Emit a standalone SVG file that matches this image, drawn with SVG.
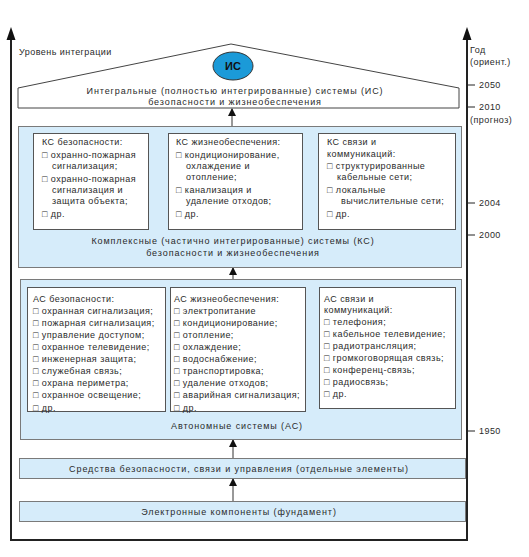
<svg xmlns="http://www.w3.org/2000/svg" width="529" height="557" viewBox="0 0 529 557">
<style>
text{font-family:"Liberation Sans",Arial,sans-serif;font-size:9px;fill:#2a2a2a;letter-spacing:0.45px}
.c{text-anchor:middle;letter-spacing:0.9px}
.blue{fill:#d6ecfa;stroke:#7a7a7a;stroke-width:1}
.white{fill:#fff;stroke:#555;stroke-width:1}
.axis{stroke:#222;stroke-width:2;fill:none}
.tick{stroke:#222;stroke-width:1}
.conn{stroke:#333;stroke-width:1;fill:none}
</style>
<defs>
<marker id="ah" viewBox="0 0 8 8" refX="7" refY="4" markerWidth="8" markerHeight="8" markerUnits="userSpaceOnUse" orient="auto">
<path d="M0,0 L8,4 L0,8 Z" fill="#111"/>
</marker>
</defs>
<rect width="529" height="557" fill="#fff"/>
<g id="frame">
<path class="axis" d="M11,38 V540 H467 V38"/>
<polygon points="11,27 6.5,40 15.5,40" fill="#111"/>
<polygon points="467,27 462.5,40 471.5,40" fill="#111"/>
<text x="19" y="55">Уровень интеграции</text>
<text x="470" y="53">Год</text>
<text x="470" y="65">(ориент.)</text>
<line class="tick" x1="467" y1="85" x2="475" y2="85"/>
<text x="479" y="88">2050</text>
<line class="tick" x1="467" y1="107" x2="475" y2="107"/>
<text x="479" y="110">2010</text>
<text x="470" y="123">(прогноз)</text>
<line class="tick" x1="467" y1="203" x2="475" y2="203"/>
<text x="479" y="206">2004</text>
<line class="tick" x1="467" y1="235" x2="475" y2="235"/>
<text x="479" y="238">2000</text>
<line class="tick" x1="467" y1="431" x2="475" y2="431"/>
<text x="479" y="434">1950</text>
</g>
<g id="connectors">
<line class="conn" x1="232" y1="126" x2="232" y2="109" marker-end="url(#ah)"/>
<line class="conn" x1="233" y1="279" x2="233" y2="268" marker-end="url(#ah)"/>
<line class="conn" x1="233" y1="458" x2="233" y2="440" marker-end="url(#ah)"/>
<line class="conn" x1="233" y1="501" x2="233" y2="479" marker-end="url(#ah)"/>
</g>
<g id="is">
<polygon points="18,108 18,88 231,44 459,88 459,108" fill="#fff" stroke="#444" stroke-width="1"/>
<ellipse cx="233" cy="66" rx="20" ry="14" fill="#1b9ad8" stroke="#333" stroke-width="1"/>
<text x="233" y="70" style="text-anchor:middle;letter-spacing:0;font-size:11px;font-weight:bold;fill:#111">ИС</text>
<text x="235" y="94" class="c">Интегральные (полностью интегрированные) системы (ИС)</text>
<text x="235" y="105" class="c">безопасности и жизнеобеспечения</text>
</g>
<g id="ks">
<rect class="blue" x="18.5" y="126.5" width="443" height="141"/>
<text x="233" y="244" class="c">Комплексные (частично интегрированные) системы (КС)</text>
<text x="233" y="256" class="c">безопасности и жизнеобеспечения</text>
</g>
<g id="ks-safety">
<rect class="white" x="33.5" y="133.5" width="115" height="96"/>
<text x="42" y="145">КС безопасности:</text>
<text x="42" y="158">□ охранно-пожарная</text>
<text x="52" y="169">сигнализация;</text>
<text x="42" y="182">□ охранно-пожарная</text>
<text x="52" y="193">сигнализация и</text>
<text x="52" y="204">защита объекта;</text>
<text x="42" y="217">□ др.</text>
</g>
<g id="ks-life">
<rect class="white" x="168.5" y="133.5" width="134" height="96"/>
<text x="176" y="145">КС жизнеобеспечения:</text>
<text x="176" y="158">□ кондиционирование,</text>
<text x="186" y="169">охлаждение и</text>
<text x="186" y="180">отопление;</text>
<text x="176" y="193">□ канализация и</text>
<text x="186" y="204">удаление отходов;</text>
<text x="176" y="217">□ др.</text>
</g>
<g id="ks-comm">
<rect class="white" x="318.5" y="133.5" width="137" height="96"/>
<text x="327" y="145">КС связи и</text>
<text x="327" y="157">коммуникаций:</text>
<text x="327" y="169">□ структурированные</text>
<text x="337" y="180">кабельные сети;</text>
<text x="327" y="193">□ локальные</text>
<text x="341" y="204">вычислительные сети;</text>
<text x="327" y="217">□ др.</text>
</g>
<g id="as">
<rect class="blue" x="20.5" y="279.5" width="441" height="160"/>
<text x="237" y="429" class="c">Автономные системы (АС)</text>
</g>
<g id="as-safety">
<rect class="white" x="27.5" y="287.5" width="138" height="124"/>
<text x="33" y="302">АС безопасности:</text>
<text x="33" y="314">□ охранная сигнализация;</text>
<text x="33" y="326">□ пожарная сигнализация;</text>
<text x="33" y="338">□ управление доступом;</text>
<text x="33" y="350">□ охранное телевидение;</text>
<text x="33" y="362">□ инженерная защита;</text>
<text x="33" y="374">□ служебная связь;</text>
<text x="33" y="386">□ охрана периметра;</text>
<text x="33" y="398">□ охранное освещение;</text>
<text x="33" y="411">□ др.</text>
</g>
<g id="as-life">
<rect class="white" x="170.5" y="287.5" width="135" height="124"/>
<text x="174" y="302">АС жизнеобеспечения:</text>
<text x="174" y="314">□ электропитание</text>
<text x="174" y="326">□ кондиционирование;</text>
<text x="174" y="338">□ отопление;</text>
<text x="174" y="350">□ охлаждение;</text>
<text x="174" y="362">□ водоснабжение;</text>
<text x="174" y="374">□ транспортировка;</text>
<text x="174" y="386">□ удаление отходов;</text>
<text x="174" y="398">□ аварийная сигнализация;</text>
<text x="174" y="411">□ др.</text>
</g>
<g id="as-comm">
<rect class="white" x="319.5" y="287.5" width="136" height="121"/>
<text x="324" y="302">АС связи и</text>
<text x="324" y="313">коммуникаций:</text>
<text x="324" y="325">□ телефония;</text>
<text x="324" y="337">□ кабельное телевидение;</text>
<text x="324" y="349">□ радиотрансляция;</text>
<text x="324" y="361">□ громкоговорящая связь;</text>
<text x="324" y="373">□ конференц-связь;</text>
<text x="324" y="385">□ радиосвязь;</text>
<text x="324" y="397">□ др.</text>
</g>
<g id="means">
<rect class="blue" x="19.5" y="458.5" width="446" height="20"/>
<text x="239" y="472" class="c">Средства безопасности, связи и управления (отдельные элементы)</text>
</g>
<g id="components">
<rect class="blue" x="19.5" y="501.5" width="446" height="20"/>
<text x="239" y="515" class="c">Электронные компоненты (фундамент)</text>
</g>
</svg>
